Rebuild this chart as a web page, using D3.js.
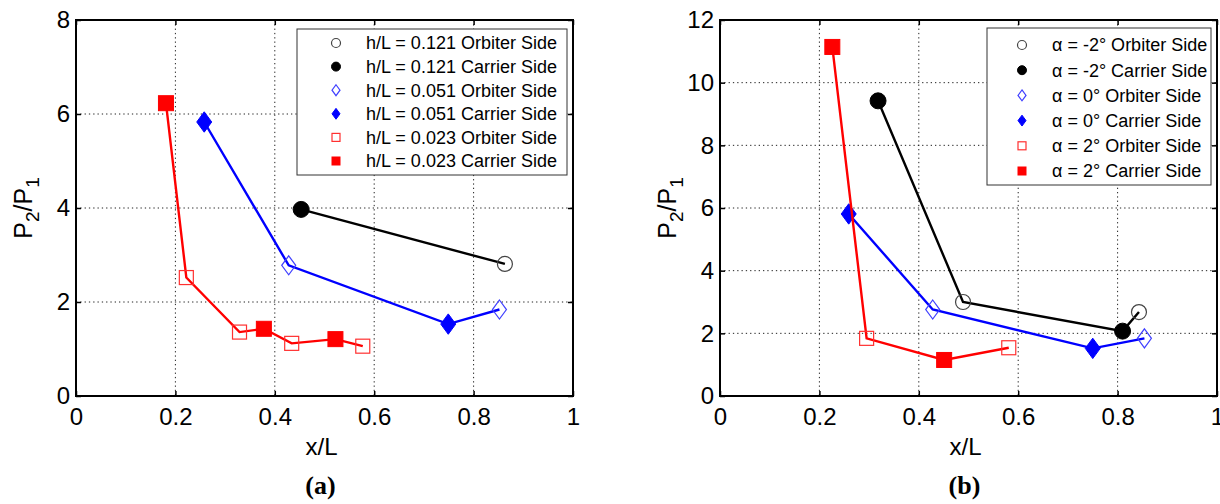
<!DOCTYPE html>
<html>
<head>
<meta charset="utf-8">
<script src="https://cdn.jsdelivr.net/npm/d3@7"></script>
<style>
  body { margin: 0; background: #fff; }
  text { font-family: "Liberation Sans", Arial, sans-serif; fill: #000; }
</style>
</head>
<body>
<div id="chart"></div>
<script>
// tick values
var xTicks = [0, 0.2, 0.4, 0.6, 0.8, 1];
var yTicksA = [0, 2, 4, 6, 8];
var yTicksB = [0, 2, 4, 6, 8, 10, 12];

// panel (a), h/L series. side: "c" = carrier side (filled), "o" = orbiter side (open)
var a121X = [0.453, 0.863];
var a121Y = [3.97, 2.81];
var a121Side = ["c", "o"];
var a051X = [0.258, 0.428, 0.749, 0.852];
var a051Y = [5.83, 2.78, 1.53, 1.84];
var a051Side = ["c", "o", "c", "o"];
var a023X = [0.181, 0.222, 0.329, 0.378, 0.434, 0.522, 0.577];
var a023Y = [6.23, 2.52, 1.36, 1.43, 1.12, 1.21, 1.06];
var a023Side = ["c", "o", "o", "c", "o", "c", "o"];

// panel (b), alpha series
var bm2X = [0.318, 0.489, 0.81, 0.843];
var bm2Y = [9.42, 3.0, 2.07, 2.68];
var bm2Side = ["c", "o", "c", "o"];
var b0X = [0.259, 0.428, 0.75, 0.854];
var b0Y = [5.81, 2.76, 1.52, 1.84];
var b0Side = ["c", "o", "c", "o"];
var b2X = [0.226, 0.295, 0.451, 0.581];
var b2Y = [11.14, 1.84, 1.15, 1.54];
var b2Side = ["c", "o", "c", "o"];

var legendA = ["h/L = 0.121 Orbiter Side", "h/L = 0.121 Carrier Side",
               "h/L = 0.051 Orbiter Side", "h/L = 0.051 Carrier Side",
               "h/L = 0.023 Orbiter Side", "h/L = 0.023 Carrier Side"];
var legendB = ["\u03b1 = -2\u00b0 Orbiter Side", "\u03b1 = -2\u00b0 Carrier Side",
               "\u03b1 = 0\u00b0 Orbiter Side", "\u03b1 = 0\u00b0 Carrier Side",
               "\u03b1 = 2\u00b0 Orbiter Side", "\u03b1 = 2\u00b0 Carrier Side"];

var svg = d3.select("#chart")
  .append("svg")
  .attr("width", 1220)
  .attr("height", 504);

var styles = {
  black: {line: "#000", shape: "circle", open: "#444"},
  blue:  {line: "#0000ff", shape: "diamond", open: "#4040ff"},
  red:   {line: "#ff0000", shape: "square", open: "#ff3030"}
};

// draw one marker
function marker(g, shape, cx, cy, filled, color, openColor, s) {
  var m;
  if (shape == "circle") {
    m = g.append("circle").attr("cx", cx).attr("cy", cy).attr("r", s / 2 + 0.5);
  } else if (shape == "square") {
    m = g.append("rect").attr("x", cx - s / 2).attr("y", cy - s / 2)
      .attr("width", s).attr("height", s);
  } else {
    var w = s / 2, h = s * 0.68;
    m = g.append("path")
      .attr("d", "M" + cx + "," + (cy - h) + "L" + (cx + w) + "," + cy +
                 "L" + cx + "," + (cy + h) + "L" + (cx - w) + "," + cy + "Z");
  }
  if (filled) {
    m.attr("fill", color).attr("stroke", color).attr("stroke-width", 1);
  } else {
    m.attr("fill", "none").attr("stroke", openColor).attr("stroke-width", 1.2);
  }
}

function panel(opt) {
  var left = opt.left, top = 20, width = 497, height = 376;
  var g = svg.append("g").attr("transform", "translate(" + left + "," + top + ")");

  var x = d3.scaleLinear().domain([0, 1]).range([0, width]);
  var y = d3.scaleLinear().domain([0, opt.yMax]).range([height, 0]);

  // dotted grid
  g.append("g").selectAll("line")
    .data(xTicks.slice(1, -1))
    .enter().append("line")
      .attr("x1", function(d) { return x(d); })
      .attr("x2", function(d) { return x(d); })
      .attr("y1", 0).attr("y2", height)
      .attr("stroke", "#222").attr("stroke-width", 1)
      .attr("stroke-dasharray", "1.3,3");
  g.append("g").selectAll("line")
    .data(opt.yTicks.slice(1, -1))
    .enter().append("line")
      .attr("y1", function(d) { return y(d); })
      .attr("y2", function(d) { return y(d); })
      .attr("x1", 0).attr("x2", width)
      .attr("stroke", "#222").attr("stroke-width", 1)
      .attr("stroke-dasharray", "1.3,3");

  // axes, ticks inside on all four sides
  var xb = g.append("g").attr("transform", "translate(0," + height + ")")
    .call(d3.axisBottom(x).tickValues(xTicks).tickSize(-5).tickPadding(12)
      .tickFormat(function(d) { return d; }));
  var yl = g.append("g")
    .call(d3.axisLeft(y).tickValues(opt.yTicks).tickSize(-5).tickPadding(6));
  var xt = g.append("g")
    .call(d3.axisTop(x).tickValues(xTicks).tickSize(-5).tickFormat(""));
  var yr = g.append("g").attr("transform", "translate(" + width + ",0)")
    .call(d3.axisRight(y).tickValues(opt.yTicks).tickSize(-5).tickFormat(""));
  [xb, yl, xt, yr].forEach(function(a) {
    a.attr("font-family", null);
    a.select(".domain").remove();
    a.selectAll(".tick line").attr("stroke", "#000").attr("stroke-width", 1.5);
    a.selectAll("text").style("font-size", "24px");
  });

  g.append("rect")
    .attr("width", width).attr("height", height)
    .attr("fill", "none").attr("stroke", "#000").attr("stroke-width", 2);

  // series: line first, then markers
  opt.series.forEach(function(s) {
    var st = styles[s.color];
    var pts = s.x.map(function(v, i) { return [v, s.y[i], s.side[i]]; });
    g.append("path")
      .datum(pts)
      .attr("fill", "none")
      .attr("stroke", st.line)
      .attr("stroke-width", 2.4)
      .attr("d", d3.line()
        .x(function(d) { return x(d[0]); })
        .y(function(d) { return y(d[1]); }));
    pts.forEach(function(d) {
      var filled = d[2] == "c";
      marker(g, st.shape, x(d[0]), y(d[1]), filled, st.line, st.open, filled ? 15 : 14);
    });
  });

  // legend
  var lg = opt.legend;
  g.append("rect")
    .attr("x", lg.x - left).attr("y", lg.y - top)
    .attr("width", lg.w).attr("height", lg.h)
    .attr("fill", "#fff").attr("stroke", "#333").attr("stroke-width", 1);
  var order = ["black", "black", "blue", "blue", "red", "red"];
  opt.labels.forEach(function(t, i) {
    var cy = lg.row0 + i * lg.step - top;
    var st = styles[order[i]];
    marker(g, st.shape, lg.mx - left, cy, i % 2 == 1, st.line, st.open, 8);
    g.append("text")
      .attr("x", lg.tx - left).attr("y", cy)
      .attr("dy", "0.36em")
      .style("font-size", "18px")
      .text(t);
  });

  // axis labels
  g.append("text")
    .attr("x", width / 2 - 3).attr("y", 59)
    .attr("transform", "translate(0," + height + ")")
    .attr("text-anchor", "middle")
    .style("font-size", "24px")
    .text("x/L");

  var yt = g.append("text")
    .attr("transform", "translate(-44," + (height / 2) + ") rotate(-90)")
    .attr("text-anchor", "middle")
    .style("font-size", "25px");
  yt.append("tspan").text("P");
  yt.append("tspan").attr("dy", 7).style("font-size", "19px").text("2");
  yt.append("tspan").attr("dy", -7).text("/P");
  yt.append("tspan").attr("dy", 7).style("font-size", "19px").text("1");

  svg.append("text")
    .attr("x", left + width / 2 - 4).attr("y", 494)
    .attr("text-anchor", "middle")
    .style("font-family", "'Liberation Serif', 'Times New Roman', serif")
    .style("font-weight", "bold")
    .style("font-size", "26px")
    .text(opt.tag);
}

panel({
  left: 76, yMax: 8, yTicks: yTicksA, tag: "(a)", labels: legendA,
  legend: {x: 297, y: 29, w: 270, h: 146, row0: 43, step: 23.6, mx: 336, tx: 366},
  series: [
    {color: "black", x: a121X, y: a121Y, side: a121Side},
    {color: "blue", x: a051X, y: a051Y, side: a051Side},
    {color: "red", x: a023X, y: a023Y, side: a023Side}
  ]
});

panel({
  left: 720, yMax: 12, yTicks: yTicksB, tag: "(b)", labels: legendB,
  legend: {x: 987, y: 28, w: 224, h: 157, row0: 45, step: 25.2, mx: 1022, tx: 1052},
  series: [
    {color: "black", x: bm2X, y: bm2Y, side: bm2Side},
    {color: "blue", x: b0X, y: b0Y, side: b0Side},
    {color: "red", x: b2X, y: b2Y, side: b2Side}
  ]
});
</script>
</body>
</html>
